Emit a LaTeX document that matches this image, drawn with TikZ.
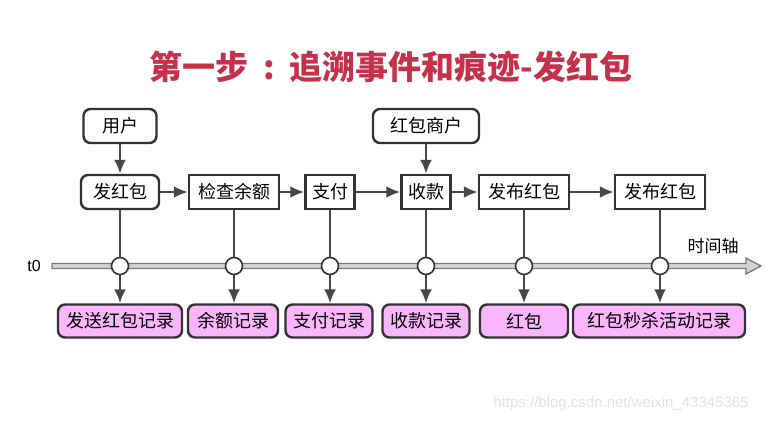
\documentclass[tikz,border=0pt]{standalone}
\usepackage{fontspec}
\setmainfont{Liberation Sans}
\newfontfamily\cjk{Noto Sans CJK SC}
\usetikzlibrary{arrows.meta}

\definecolor{titlered}{HTML}{C5304A}
\definecolor{boxline}{HTML}{333333}
\definecolor{recpink}{HTML}{FAB6FA}
\definecolor{axisfill}{HTML}{D4D4D4}
\definecolor{axisline}{HTML}{7A7A7A}

\tikzset{
	step box/.style={draw=boxline, line width=2.4pt, fill=white, minimum height=34pt, inner sep=0pt, font=\cjk\fontsize{18}{18}\selectfont},
	actor box/.style={step box, rounded corners=7pt},
	rec box/.style={step box, rounded corners=7pt, fill=recpink},
	tick/.style={circle, draw=boxline, line width=1.6pt, fill=white, minimum size=17pt, inner sep=0pt},
	flow/.style={draw=boxline!90, line width=2.4pt}
}

\begin{document}
\begin{tikzpicture}[x=1pt, y=-1pt, >={Latex[length=14pt,width=12pt]}]
		\useasboundingbox (0,0) rectangle (766,423);
		% title
		\node[font=\cjk\fontsize{33}{33}\selectfont\bfseries, text=titlered] (title) at (391,67) {第一步\hspace{0.45em}:\hspace{0.45em}追溯事件和痕迹-发红包};
		% who starts it
		\node[actor box, minimum width=73pt] (user) at (120,126) {用户};
		\node[actor box, minimum width=106pt] (merchant) at (426,126) {红包商户};
		% the steps
		\node[actor box, minimum width=78pt] (send) at (120,192) {发红包};
		\node[step box, minimum width=90pt] (check) at (234,192) {检查余额};
		\node[step box, minimum width=49pt] (pay) at (330,192) {支付};
		\node[step box, minimum width=49pt] (collect) at (426,192) {收款};
		\node[step box, minimum width=90pt] (publish) at (524,192) {发布红包};
		\node[step box, minimum width=90pt] (publishb) at (660,192) {发布红包};
		\draw[flow,->] (user) -- (send);
		\draw[flow,->] (merchant) -- (collect);
		\draw[flow,->] (send) -- (check);
		\draw[flow,->] (check) -- (pay);
		\draw[flow,->] (pay) -- (collect);
		\draw[flow,->] (collect) -- (publish);
		\draw[flow,->] (publish) -- (publishb);
		% time axis
		\draw[axisline, fill=axisfill, line width=1.3pt] (52,263.5) -- (746,263.5) -- (746,258) -- (761,266) -- (746,274) -- (746,268.5) -- (52,268.5) -- cycle;
		\node[font=\fontsize{16}{16}\selectfont] (tzero) at (34,266) {t0};
		\node[font=\cjk\fontsize{17}{17}\selectfont] (axislabel) at (713,246) {时间轴};
		% the records
		\node[rec box, minimum width=124pt, minimum height=33pt] (sendrec) at (120,321) {发送红包记录};
		\node[rec box, minimum width=90pt, minimum height=33pt] (checkrec) at (233,321) {余额记录};
		\node[rec box, minimum width=87pt, minimum height=33pt] (payrec) at (329,321) {支付记录};
		\node[rec box, minimum width=87pt, minimum height=33pt] (collectrec) at (426,321) {收款记录};
		\node[rec box, minimum width=88pt, minimum height=33pt] (publishrec) at (524,321) {红包};
		\node[rec box, minimum width=172pt, minimum height=33pt] (publishbrec) at (659,321) {红包秒杀活动记录};
		% points on the axis
		\coordinate (ta) at (120,266);
		\coordinate (tb) at (234,266);
		\coordinate (tc) at (330,266);
		\coordinate (td) at (426,266);
		\coordinate (te) at (524,266);
		\coordinate (tf) at (660,266);
		\draw[flow] (send.south) -- (ta);
		\draw[flow] (check.south) -- (tb);
		\draw[flow] (pay.south) -- (tc);
		\draw[flow] (collect.south) -- (td);
		\draw[flow] (publish.south) -- (te);
		\draw[flow] (publishb.south) -- (tf);
		\draw[flow,->] (ta) -- (ta |- sendrec.north);
		\draw[flow,->] (tb) -- (tb |- checkrec.north);
		\draw[flow,->] (tc) -- (tc |- payrec.north);
		\draw[flow,->] (td) -- (td |- collectrec.north);
		\draw[flow,->] (te) -- (te |- publishrec.north);
		\draw[flow,->] (tf) -- (tf |- publishbrec.north);
		\node[tick] (ca) at (ta) {};
		\node[tick] (cb) at (tb) {};
		\node[tick] (cc) at (tc) {};
		\node[tick] (cd) at (td) {};
		\node[tick] (ce) at (te) {};
		\node[tick] (cf) at (tf) {};
		% watermark
		\node[text=black!11, font=\fontsize{15}{15}\selectfont] (mark) at (621,404) {https://blog.csdn.net/weixin\_43345365};
\end{tikzpicture}
\end{document}
